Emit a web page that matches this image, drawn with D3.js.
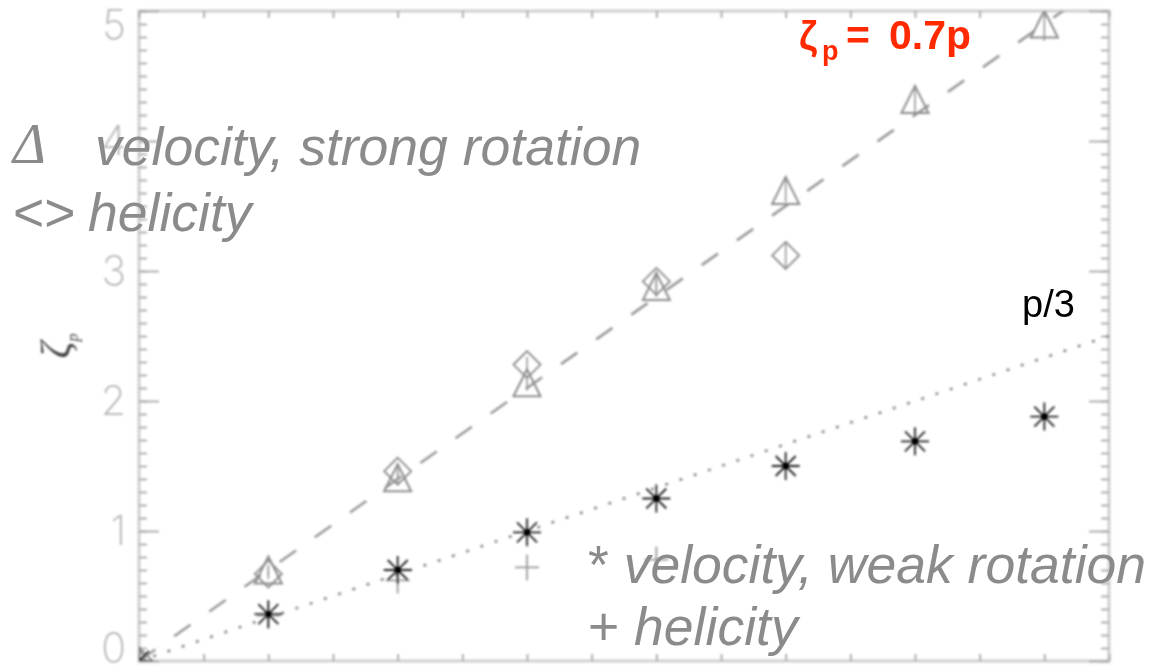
<!DOCTYPE html>
<html>
<head>
<meta charset="utf-8">
<script src="https://cdn.jsdelivr.net/npm/d3@7"></script>
<style>
  html, body { margin: 0; padding: 0; background: #fff; }
  svg { display: block; }
</style>
</head>
<body>
<svg id="chart" width="1165" height="668"></svg>
<script>
// Order p of the structure functions
const orders = [0, 1, 2, 3, 4, 5, 6, 7];

// Scaling exponents zeta_p for each run
const velStrong = [0, 0.70, 1.41, 2.14, 2.88, 3.62, 4.32, 4.90];   // triangles
const velStrongErr = [0, 0.04, 0.05, 0.06, 0.08, 0.09, 0.11, 0.13];
const helStrong = [0, 0.67, 1.46, 2.28, 2.92, 3.12];               // diamonds
const helStrongErr = [0, 0.04, 0.05, 0.06, 0.08, 0.10];
const velWeak = [0, 0.36, 0.70, 0.99, 1.25, 1.50, 1.69, 1.88];     // asterisks
const helWeak = [0, 0.35, 0.62, 0.72, 0.78];                       // plus signs

// Reference laws zeta_p = slope * p
const fitSlopes = [0.7, 1 / 3];

// Axis ticks
const yMajorTicks = [0, 1, 2, 3, 4, 5];
const yMinorTicks = d3.range(0, 50.5, 1).map(d => d / 10);
const xTicks = d3.range(0, 15.5, 1).map(d => d / 2);

const svg = d3.select("#chart");
const plotLeft = 139, plotRight = 1109, plotTop = 11, plotBottom = 661;

const x = d3.scaleLinear().domain([0, 7.5]).range([plotLeft, plotRight]);
const y = d3.scaleLinear().domain([0, 5]).range([plotBottom, plotTop]);

const defs = svg.append("defs");
defs.append("clipPath").attr("id", "plotClip")
  .append("rect")
  .attr("x", plotLeft).attr("y", plotTop)
  .attr("width", plotRight - plotLeft).attr("height", plotBottom - plotTop);
defs.append("filter").attr("id", "soft")
  .attr("x", "-5%").attr("y", "-5%").attr("width", "110%").attr("height", "110%")
  .append("feGaussianBlur").attr("stdDeviation", 1.0);

const plot = svg.append("g").attr("filter", "url(#soft)");

// Frame
plot.append("rect")
  .attr("x", plotLeft).attr("y", plotTop)
  .attr("width", plotRight - plotLeft).attr("height", plotBottom - plotTop)
  .attr("fill", "none").attr("stroke", "#cfcfcf").attr("stroke-width", 3);

function styleTicks(g) {
  g.select(".domain").remove();
  g.selectAll(".tick line").attr("stroke", "#a8a8a8").attr("stroke-width", 1.8);
}

// Left axis: inward ticks
plot.append("g").attr("transform", `translate(${plotLeft},0)`)
  .call(d3.axisRight(y).tickValues(yMinorTicks).tickSize(8).tickFormat(""))
  .call(styleTicks);
plot.append("g").attr("transform", `translate(${plotLeft},0)`)
  .call(d3.axisRight(y).tickValues(yMajorTicks).tickSize(20).tickFormat(""))
  .call(styleTicks);
// Right axis: inward ticks
plot.append("g").attr("transform", `translate(${plotRight},0)`)
  .call(d3.axisLeft(y).tickValues(yMinorTicks).tickSize(8).tickFormat(""))
  .call(styleTicks);
plot.append("g").attr("transform", `translate(${plotRight},0)`)
  .call(d3.axisLeft(y).tickValues(yMajorTicks).tickSize(20).tickFormat(""))
  .call(styleTicks);
// Bottom and top axes
plot.append("g").attr("transform", `translate(0,${plotBottom})`)
  .call(d3.axisTop(x).tickValues(xTicks).tickSize(7).tickFormat(""))
  .call(styleTicks);
plot.append("g").attr("transform", `translate(0,${plotTop})`)
  .call(d3.axisBottom(x).tickValues(xTicks).tickSize(7).tickFormat(""))
  .call(styleTicks);

// Y tick labels
const yLab = plot.append("g").attr("transform", `translate(${plotLeft},0)`)
  .call(d3.axisLeft(y).tickValues(yMajorTicks).tickSize(0).tickPadding(13).tickFormat(d3.format("d")));
yLab.select(".domain").remove();
yLab.selectAll(".tick text")
  .attr("font-family", "Inter, 'Liberation Sans', sans-serif")
  .attr("font-weight", 200)
  .attr("font-size", 41)
  .attr("fill", "#b2b2b2")
  .attr("dy", d => d === 5 ? "0.67em" : d === 0 ? "0" : "0.34em");

// Y axis title: zeta_p, rotated
const yTitle = plot.append("text")
  .attr("transform", "translate(70,346) rotate(-90)")
  .attr("text-anchor", "middle")
  .attr("font-family", "'Liberation Serif', serif")
  .attr("font-style", "italic")
  .attr("font-size", 42)
  .attr("fill", "#444");
yTitle.append("tspan").text("ζ");
yTitle.append("tspan").attr("font-size", 16).attr("dy", 8).text("p");

// Clipped data layer
const layer = plot.append("g").attr("clip-path", "url(#plotClip)");

// Reference laws
const pRange = [0, 7.5];
const line = d3.line().x(d => x(d[0])).y(d => y(d[1]));
layer.append("path")
  .attr("d", line(pRange.map(p => [p, fitSlopes[0] * p])))
  .attr("fill", "none").attr("stroke", "#9a9a9a").attr("stroke-width", 2.6)
  .attr("stroke-dasharray", "20 23");
layer.append("path")
  .attr("d", line(pRange.map(p => [p, fitSlopes[1] * p])))
  .attr("fill", "none").attr("stroke", "#8a8a8a").attr("stroke-width", 2.6)
  .attr("stroke-dasharray", "3 12");

// Symbols
const S = 13.5;
function errBars(vals, errs, color) {
  layer.append("g").selectAll("line")
    .data(vals.map((v, i) => ({ p: orders[i], v, e: errs[i] })))
    .join("line")
    .attr("x1", d => x(d.p)).attr("x2", d => x(d.p))
    .attr("y1", d => y(d.v - d.e)).attr("y2", d => y(d.v + d.e))
    .attr("stroke", color).attr("stroke-width", 1.6);
}
errBars(velStrong, velStrongErr, "#999");
errBars(helStrong, helStrongErr, "#999");

layer.append("g").selectAll("path")
  .data(velStrong.map((v, i) => ({ p: orders[i], v })))
  .join("path")
  .attr("transform", d => `translate(${x(d.p)},${y(d.v)})`)
  .attr("d", `M${-S},${S}L0,${-S}L${S},${S}Z`)
  .attr("fill", "none").attr("stroke", "#8c8c8c").attr("stroke-width", 2);

layer.append("g").selectAll("path")
  .data(helStrong.map((v, i) => ({ p: orders[i], v })))
  .join("path")
  .attr("transform", d => `translate(${x(d.p)},${y(d.v)})`)
  .attr("d", `M0,${-S}L${S},0L0,${S}L${-S},0Z`)
  .attr("fill", "none").attr("stroke", "#8c8c8c").attr("stroke-width", 1.8);

layer.append("g").selectAll("path")
  .data(helWeak.map((v, i) => ({ p: orders[i], v })))
  .join("path")
  .attr("transform", d => `translate(${x(d.p)},${y(d.v)})`)
  .attr("d", `M${-12},0H12M0,${-13}V13`)
  .attr("fill", "none").attr("stroke", "#9a9a9a").attr("stroke-width", 1.8);

const A = 14, D = 10;
const star = layer.append("g").selectAll("g")
  .data(velWeak.map((v, i) => ({ p: orders[i], v })))
  .join("g")
  .attr("transform", d => `translate(${x(d.p)},${y(d.v)})`);
star.append("path")
  .attr("d", `M${-A},0H${A}M0,${-A}V${A}M${-D},${-D}L${D},${D}M${-D},${D}L${D},${-D}`)
  .attr("fill", "none").attr("stroke", "#222").attr("stroke-width", 1.8);
star.append("circle").attr("r", 3.4).attr("fill", "#000");

// Annotations drawn on top of the plot
const ann = svg.append("g");
const gray = "#8b8b8b";
const fs = 53.5;

ann.append("text").attr("x", 13).attr("y", 163)
  .attr("font-family", "'Liberation Serif', serif").attr("font-style", "italic")
  .attr("font-size", 56).attr("fill", gray).text("Δ");
ann.append("text").attr("x", 95).attr("y", 165)
  .attr("font-family", "'Liberation Sans', Arial, sans-serif").attr("font-style", "italic")
  .attr("font-size", fs).attr("fill", gray).text("velocity, strong rotation");
ann.append("text").attr("x", 13).attr("y", 231)
  .attr("font-family", "'Liberation Sans', Arial, sans-serif")
  .attr("font-size", fs).attr("fill", gray).text("<>");
ann.append("text").attr("x", 88).attr("y", 231)
  .attr("font-family", "'Liberation Sans', Arial, sans-serif").attr("font-style", "italic")
  .attr("font-size", fs).attr("fill", gray).text("helicity");

const l3 = ann.append("text").attr("x", 588).attr("y", 583)
  .attr("font-family", "'Liberation Sans', Arial, sans-serif")
  .attr("font-size", fs).attr("fill", gray);
l3.append("tspan").text("* ");
l3.append("tspan").attr("font-style", "italic").text("velocity, weak rotation");
const l4 = ann.append("text").attr("x", 588).attr("y", 645)
  .attr("font-family", "'Liberation Sans', Arial, sans-serif")
  .attr("font-size", fs).attr("fill", gray);
l4.append("tspan").text("+ ");
l4.append("tspan").attr("font-style", "italic").text("helicity");

// Law labels
const red = "#ff2a00";
ann.append("text").attr("x", 799).attr("y", 50)
  .attr("font-family", "'Liberation Sans', Arial, sans-serif").attr("font-weight", "bold")
  .attr("font-size", 40).attr("fill", red).text("ζ");
ann.append("text").attr("x", 822).attr("y", 60)
  .attr("font-family", "'Liberation Sans', Arial, sans-serif").attr("font-weight", "bold")
  .attr("font-size", 27).attr("fill", red).text("p");
ann.append("text").attr("x", 846).attr("y", 49)
  .attr("font-family", "'Liberation Sans', Arial, sans-serif").attr("font-weight", "bold")
  .attr("font-size", 41).attr("fill", red).text("=");
ann.append("text").attr("x", 889).attr("y", 49)
  .attr("font-family", "'Liberation Sans', Arial, sans-serif").attr("font-weight", "bold")
  .attr("font-size", 41).attr("fill", red).text("0.7p");

ann.append("text").attr("x", 1022).attr("y", 317)
  .attr("font-family", "'Liberation Sans', Arial, sans-serif")
  .attr("font-size", 38).attr("fill", "#000").text("p/3");
</script>
</body>
</html>
